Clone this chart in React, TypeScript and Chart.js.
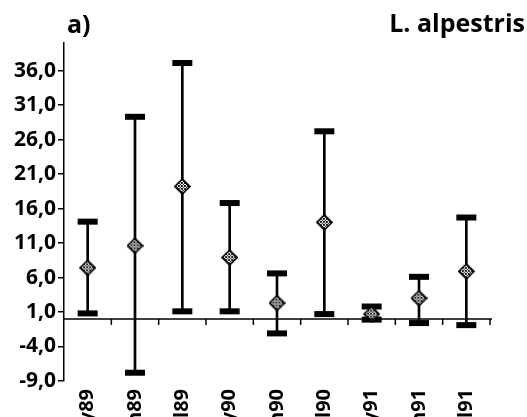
import React, { useEffect, useRef } from "react";
import { Chart, registerables } from "chart.js";

Chart.register(...registerables);

const categories = ["May89", "Jun89", "Jul89", "May90", "Jun90", "Jul90", "May91", "Jun91", "Jul91"];
const means = [7.4, 10.6, 19.2, 8.9, 2.3, 14.0, 0.7, 3.0, 6.9];
const upper = [14.1, 29.3, 37.1, 16.8, 6.6, 27.2, 1.8, 6.1, 14.7];
const lower = [0.8, -7.8, 1.1, 1.1, -2.1, 0.7, -0.1, -0.6, -0.9];
const yTicks = [-9, -4, 1, 6, 11, 16, 21, 26, 31, 36];
const yMin = -9;
const yMax = 40;
const panelLabel = "a)";
const speciesLabel = "L. alpestris";

function makeDiamond(): HTMLCanvasElement {
  const size = 17;
  const c = document.createElement("canvas");
  c.width = size;
  c.height = size;
  const g = c.getContext("2d");
  if (!g) return c;
  const h = (size - 1) / 2;
  g.beginPath();
  g.moveTo(h + 0.5, 1);
  g.lineTo(size - 1, h + 0.5);
  g.lineTo(h + 0.5, size - 1);
  g.lineTo(1, h + 0.5);
  g.closePath();
  g.save();
  g.clip();
  g.fillStyle = "#ffffff";
  g.fillRect(0, 0, size, size);
  g.fillStyle = "#1a1a1a";
  for (let x = 0; x < size; x++) {
    for (let y = 0; y < size; y++) {
      if ((x + y) % 3 === 0 || (x - y + 60) % 3 === 0) g.fillRect(x, y, 1, 1);
    }
  }
  g.restore();
  g.strokeStyle = "#000";
  g.lineWidth = 1.6;
  g.stroke();
  return c;
}

const zeroAxisPlugin = {
  id: "zeroAxis",
  afterDatasetsDraw(chart: any) {
    const { ctx, chartArea, scales } = chart;
    const y0 = scales.y.getPixelForValue(0);
    const xs = scales.x;
    const step = xs.getPixelForValue(1) - xs.getPixelForValue(0);
    ctx.save();
    ctx.strokeStyle = "#000";
    ctx.lineWidth = 1.5;
    ctx.beginPath();
    ctx.moveTo(chartArea.left, y0);
    ctx.lineTo(chartArea.right + 2, y0);
    ctx.stroke();
    for (let i = 0; i < categories.length; i++) {
      const bx = xs.getPixelForValue(i) + step / 2;
      ctx.beginPath();
      ctx.moveTo(bx, y0);
      ctx.lineTo(bx, y0 + 6);
      ctx.stroke();
    }
    ctx.restore();
  },
};

const headerPlugin = {
  id: "header",
  afterDraw(chart: any) {
    const { ctx } = chart;
    ctx.save();
    ctx.fillStyle = "#000";
    ctx.font = "bold 25px 'Open Sans'";
    ctx.textBaseline = "alphabetic";
    ctx.textAlign = "left";
    ctx.fillText(panelLabel, 67, 33);
    ctx.textAlign = "right";
    ctx.fillText(speciesLabel, 525, 32);
    ctx.restore();
  },
};

export default function App() {
  const ref = useRef<HTMLCanvasElement | null>(null);
  useEffect(() => {
    document.body.style.margin = "0";
    const canvas = ref.current;
    if (!canvas) return;
    const diamond = makeDiamond();
    const chart = new Chart(canvas, {
      type: "bar",
      data: {
        labels: categories,
        datasets: [
          {
            type: "line",
            label: "mean",
            data: means,
            showLine: false,
            pointStyle: diamond,
            pointRadius: 8,
            order: 0,
          } as any,
          {
            type: "line",
            label: "upper",
            data: upper,
            showLine: false,
            pointStyle: "line",
            pointRadius: 10,
            pointBorderColor: "#000",
            pointBorderWidth: 6,
            order: 1,
          } as any,
          {
            type: "line",
            label: "lower",
            data: lower,
            showLine: false,
            pointStyle: "line",
            pointRadius: 10,
            pointBorderColor: "#000",
            pointBorderWidth: 6,
            order: 1,
          } as any,
          {
            type: "bar",
            label: "range",
            data: categories.map((_, i) => [lower[i], upper[i]]),
            backgroundColor: "#000",
            borderWidth: 0,
            barThickness: 2,
            order: 2,
          } as any,
        ],
      },
      options: {
        responsive: false,
        animation: false,
        layout: { padding: { top: 43, right: 37, left: 0, bottom: 0 } },
        plugins: {
          legend: { display: false },
          tooltip: { enabled: false },
          title: { display: false },
        },
        scales: {
          x: {
            offset: true,
            grid: { display: false },
            border: { display: false },
            ticks: {
              minRotation: 90,
              maxRotation: 90,
              autoSkip: false,
              padding: 0,
              color: "#000",
              font: { family: "'Open Sans'", size: 20, weight: "bold" },
            },
            afterFit: (scale: any) => {
              scale.height = 36;
            },
          },
          y: {
            min: yMin,
            max: yMax,
            afterBuildTicks: (scale: any) => {
              scale.ticks = yTicks.map((v) => ({ value: v }));
            },
            afterFit: (scale: any) => {
              scale.width = 64;
            },
            grid: {
              display: true,
              drawOnChartArea: false,
              drawTicks: true,
              tickLength: 6,
              color: "#000",
              lineWidth: 1.5,
            },
            border: { display: true, color: "#000", width: 1.5 },
            ticks: {
              padding: 2,
              color: "#000",
              font: { family: "'Open Sans'", size: 21, weight: "bold" },
              callback: (v: any) => Number(v).toFixed(1).replace(".", ","),
            },
          },
        },
      },
      plugins: [zeroAxisPlugin, headerPlugin],
    });
    return () => chart.destroy();
  }, []);
  return (
    <div style={{ width: 527, height: 417 }}>
      <canvas ref={ref} width={527} height={417} />
    </div>
  );
}
